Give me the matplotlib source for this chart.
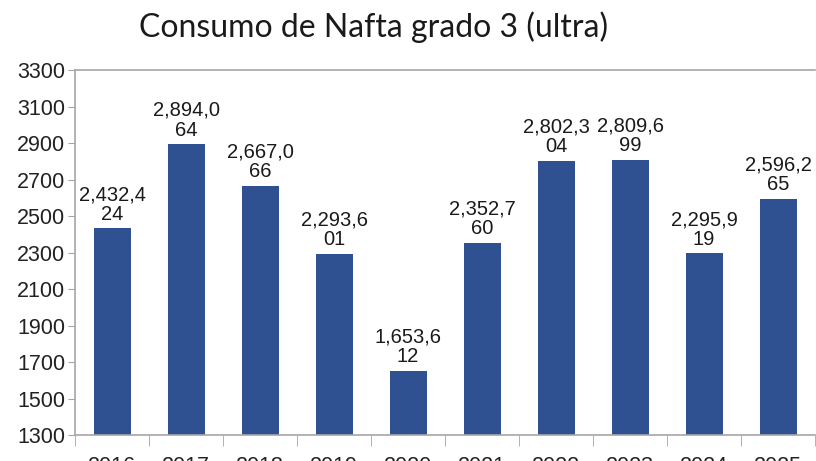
import matplotlib
matplotlib.use("Agg")
import matplotlib.pyplot as plt
import numpy as np

years = ["2016", "2017", "2018", "2019", "2020", "2021", "2022", "2023", "2024", "2025"]
consumo = [2432.424, 2894.064, 2667.066, 2293.601, 1653.612,
           2352.760, 2802.304, 2809.699, 2295.919, 2596.265]
y_ticks = list(range(1300, 3301, 200))

bar_color = "#2F5192"
grey = "#A6A6A6"

plt.rcParams["font.family"] = ["Liberation Sans", "DejaVu Sans"]

fig = plt.figure(figsize=(8.16, 4.61), dpi=100)
ax = fig.add_axes([0.092, 0.056, 0.907, 0.792])

x = np.arange(len(years))
ax.bar(x, consumo, width=0.5, color=bar_color, zorder=2)

# value labels, wrapped like the original (7 chars on first line)
for xi, v in zip(x, consumo):
    s = f"{v * 1000:,.0f}"
    ax.text(xi, v + 25, s[:7] + "\n" + s[7:], ha="center", va="bottom",
            fontsize=14.5, linespacing=1.05, color="#1a1a1a")

ax.set_xlim(-0.5, len(years) - 0.5)
ax.set_ylim(1300, 3300)
ax.set_yticks(y_ticks)
ax.set_yticklabels([str(t) for t in y_ticks], fontsize=15.5, color="#222222")
ax.set_xticks(x)
ax.set_xticklabels(years, fontsize=15.5, color="#222222")
ax.set_xticks(np.arange(-0.5, len(years), 1.0), minor=True)
ax.tick_params(axis="x", which="major", length=0, pad=15)
ax.tick_params(axis="x", which="minor", length=8, color=grey, direction="out")
ax.tick_params(axis="y", length=5, color=grey, pad=2)

for side in ["left", "bottom", "top"]:
    ax.spines[side].set_color(grey)
    ax.spines[side].set_linewidth(1.2)
ax.spines["right"].set_visible(False)

fig.text(0.458, 0.94, "Consumo de Nafta grado 3 (ultra)", ha="center", va="center",
         fontsize=23, family=["Lato", "DejaVu Sans"], color="#1a1a1a")

fig.savefig("out.png", dpi=100)
